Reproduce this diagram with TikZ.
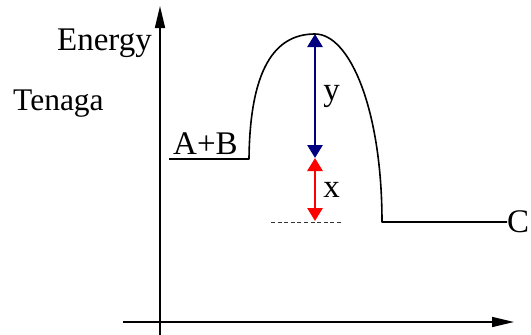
\documentclass[tikz,border=0pt]{standalone}
\usepackage{fontspec}
\setmainfont{Liberation Serif}
\usetikzlibrary{arrows.meta}
\tikzset{
  lbl/.style={inner sep=0pt,font=\fontsize{33}{36}\selectfont},
  axis/.style={line width=1.6pt,-{Triangle[length=22pt,width=10pt]}},
  gap/.style={line width=2.8pt,{Triangle[length=13pt,width=15pt]}-{Triangle[length=13pt,width=15pt]}}
}
\definecolor{navyarr}{RGB}{0,0,128}
\begin{document}
\begin{tikzpicture}[x=1pt,y=-1pt,line cap=butt,line join=round]
\useasboundingbox (0,0) rectangle (531,335);
\coordinate (ybot) at (160,336);
\coordinate (ytop) at (160,6);
\coordinate (xleft) at (123,322);
\coordinate (xright) at (514,322);
\draw[axis] (ybot)--(ytop);
\draw[axis] (xleft)--(xright);
\node[lbl,anchor=base east] (energy) at (152,50) {Energy};
\node[lbl,anchor=base west,font=\fontsize{31.5}{34}\selectfont] (tenaga) at (13,110) {Tenaga};
\node[lbl,anchor=base west] (ab) at (173,154) {A+B};
\node[lbl,anchor=west] (c) at (507,222) {C};
\coordinate (rstart) at (169,159);
\coordinate (rend) at (249,159);
\coordinate (peak) at (315,34);
\coordinate (pstart) at (382,222);
\coordinate (mid) at (315,158);
\coordinate (low) at (315,221);
\draw[line width=1.6pt] (rstart)--(rend)
  .. controls (250,60) and (280,34) .. (peak)
  .. controls (350,34) and (382,110) .. (pstart)--(c.west);
\draw[line width=1pt,dash pattern=on 4pt off 2.6pt,black!80] (271,222)--(343,222);
\draw[gap,navyarr] (peak)--(mid) node[midway,right=7pt,lbl,text=black] (ylbl) {y};
\draw[gap,red] (mid)--(low) node[midway,right=7pt,lbl,text=black] (xlbl) {x};
\end{tikzpicture}
\end{document}
